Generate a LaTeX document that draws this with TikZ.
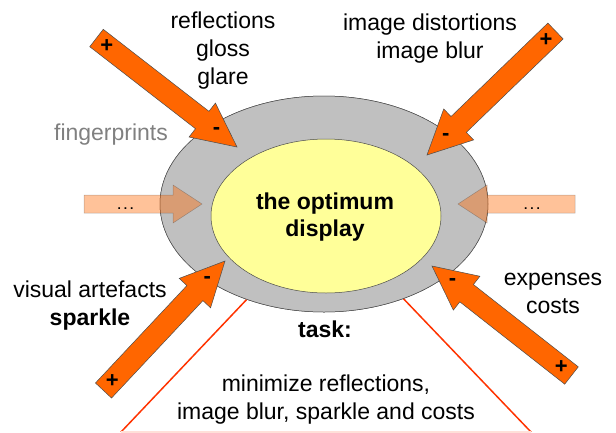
\documentclass[tikz,border=0pt]{standalone}
\usepackage{fontspec}
\setmainfont{Liberation Sans}
\usetikzlibrary{shapes.geometric, calc}

\definecolor{arroworange}{RGB}{255,102,0}
\definecolor{ringgray}{RGB}{192,192,192}
\definecolor{displayyellow}{RGB}{255,255,153}
\definecolor{taskred}{RGB}{255,51,0}

\tikzset{x=1pt, y=-1pt, % one unit per pixel, y pointing down
txt/.style={ % Sets the properties for the text blocks
align=center, inner sep=0pt,
font=\fontsize{23}{28}\selectfont},
sign/.style={ % + and - on the big arrows
inner sep=0pt, font=\fontsize{22}{22}\selectfont\bfseries},
dots/.style={ % the ... on the pale arrows
inner sep=0pt, font=\fontsize{12}{12}\selectfont\bfseries},
bigarrow/.style={ % Orange block arrows
fill=arroworange, draw=gray!60!black, line width=0.5pt},
sidearrow/.style={ % Pale, see-through block arrows
fill=arroworange, draw=gray!60!black, line width=0.5pt, opacity=0.4},
taskline/.style={draw=taskred, line width=1.5pt}}

% block arrow: style, tail, tip, half shaft width, half head width, head length
\newcommand\fatarrow[6]{%
  \coordinate (base) at ($(#3)!#6!(#2)$);
  \draw[#1] ($(#2)!#4!90:(#3)$) -- ($(base)!#4!90:(#3)$)
    -- ($(base)!#5!90:(#3)$) -- (#3) -- ($(base)!#5!-90:(#3)$)
    -- ($(base)!#4!-90:(#3)$) -- ($(#2)!#4!-90:(#3)$) -- cycle;}

\begin{document}
\begin{tikzpicture}

    \useasboundingbox (0,0) rectangle (616,432);

    % the two rings
    \node[ellipse, draw=gray!60!black, fill=ringgray, line width=0.5pt,
      minimum width=328pt, minimum height=216pt, inner sep=0pt] (frame) at (324,204) {};
    \coordinate (lb) at (121,432);
    \coordinate (rb) at (531,432);
    \draw[taskline] (frame.231.6) -- (lb);
    \draw[taskline] (frame.310) -- (rb);
    \draw[taskred!15, line width=1.5pt] (lb) -- (rb);
    \node[ellipse, draw=gray!60!black, fill=ringgray, line width=0.5pt,
      minimum width=328pt, minimum height=216pt, inner sep=0pt] at (frame) {};
    \node[ellipse, draw=gray!60!black, fill=displayyellow, line width=0.5pt,
      minimum width=230pt, minimum height=154pt, inner sep=0pt] (display) at (326,216) {};
    \node[txt, font=\fontsize{23}{27}\selectfont\bfseries] (optimum) at (325,217) {the optimum\\display};

    % arrow ends
    \coordinate (tl-tail) at (96.5,38);   \coordinate (tl-tip) at (237,147);
    \coordinate (tr-tail) at (555.5,31);  \coordinate (tr-tip) at (427,155);
    \coordinate (bl-tail) at (103.5,390.5); \coordinate (bl-tip) at (225,261);
    \coordinate (br-tail) at (571.5,375.5); \coordinate (br-tip) at (432,266);
    \coordinate (l-tail) at (84,204);     \coordinate (l-tip) at (202,204);
    \coordinate (r-tail) at (575,204);    \coordinate (r-tip) at (458,204);

    \fatarrow{sidearrow}{l-tail}{l-tip}{9pt}{19pt}{29pt}
    \fatarrow{sidearrow}{r-tail}{r-tip}{9pt}{19pt}{29pt}
    \node[dots] (ldots) at (125.5,209) {.\hspace{3pt}.\hspace{3pt}.};
    \node[dots] (rdots) at (532,209) {.\hspace{3pt}.\hspace{3pt}.};

    \foreach \a in {tl,tr,bl,br}{
      \fatarrow{bigarrow}{\a-tail}{\a-tip}{11pt}{21.5pt}{44pt}
      \node[sign] at ($(\a-tail)!13pt!(\a-tip)$) {+};
      \node[sign] at ($(\a-tip)!26pt!(\a-tail)$) {-};
    }

    % causes around the display
    \node[txt] (reflections) at (223,51) {reflections\\gloss\\glare};
    \node[txt] (distortions) at (430,39) {image distortions\\image blur};
    \node[txt, text=gray] (fingerprints) at (111,135) {fingerprints};
    \node[txt] (artefacts) at (90,306) {visual artefacts\\\textbf{sparkle}};
    \node[txt] (expenses) at (553,293) {expenses\\costs};

    % the task
    \node[txt, font=\fontsize{23}{28}\selectfont\bfseries] (task) at (325,329) {task:};
    \node[txt] (minimize) at (326,400) {minimize reflections,\\image blur, sparkle and costs};

\end{tikzpicture}
\end{document}
